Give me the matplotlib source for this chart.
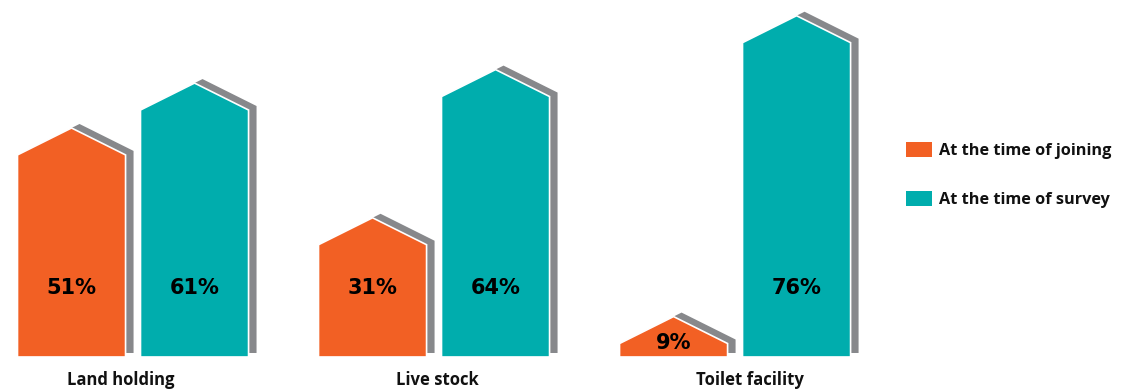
import matplotlib.pyplot as plt
from matplotlib.patches import Polygon, Patch
import matplotlib.transforms as mtransforms

categories = ["Land holding", "Live stock", "Toilet facility"]
joining = [51, 31, 9]
survey = [61, 64, 76]
series_names = ["At the time of joining", "At the time of survey"]

ORANGE = "#F26024"
TEAL = "#00ADAD"
SHADOW = "#87888B"

BAR_W = 0.359      # width of one house bar (group spacing = 1)
OFFSET = 0.2043    # half distance between the two bars of a group
ROOF = 6.0         # depth of the pitched roof, in % units


def house(xc, value):
    x0, x1 = xc - BAR_W / 2, xc + BAR_W / 2
    shoulder = max(value - ROOF, 0)
    return [(x0, 0), (x0, shoulder), (xc, value), (x1, shoulder), (x1, 0)]


fig = plt.figure(figsize=(11.36, 3.89), dpi=100)
ax = fig.add_axes([0, 0, 1, 1])
ax.set_xlim(-0.4419, 3.332)
ax.set_ylim(-7.13, 79.5)
ax.axis("off")

# shadow drawn with the same data, shifted a few pixels up-right
shadow_tr = mtransforms.offset_copy(ax.transData, fig=fig, x=8, y=4, units="dots")

label_dx = [-0.04, 0.01, 0.05]
for i, cat in enumerate(categories):
    for xc, v, col in [(i - OFFSET, joining[i], ORANGE), (i + OFFSET, survey[i], TEAL)]:
        pts = house(xc, v)
        ax.add_patch(Polygon(pts, closed=True, facecolor=SHADOW, edgecolor="none",
                             transform=shadow_tr, zorder=1))
        ax.add_patch(Polygon(pts, closed=True, facecolor=col, edgecolor="white",
                             linewidth=1.2, zorder=2))
        # small bars get their label inside the roof
        ty = 15.4 if v > 20 else v * 0.35
        ax.text(xc, ty, f"{v}%", ha="center", va="center",
                fontsize=15, fontweight="heavy", family="DejaVu Sans",
                color="black", zorder=3)
    ax.text(i + label_dx[i], -5.1, cat, ha="center", va="center", fontsize=12,
            fontweight="bold", family="Open Sans", color="#111111")

handles = [Patch(facecolor=ORANGE, edgecolor="none"), Patch(facecolor=TEAL, edgecolor="none")]
leg = fig.legend(handles, series_names, loc="center left",
                 bbox_to_anchor=(906 / 1136, 1 - 175 / 389), frameon=False,
                 prop={"family": "Open Sans", "weight": "bold", "size": 11.7},
                 handlelength=1.6, handleheight=1.05, handletextpad=0.45,
                 labelspacing=2.0, borderpad=0, borderaxespad=0)
for t in leg.get_texts():
    t.set_color("#111111")

fig.savefig("out.png", dpi=100)
